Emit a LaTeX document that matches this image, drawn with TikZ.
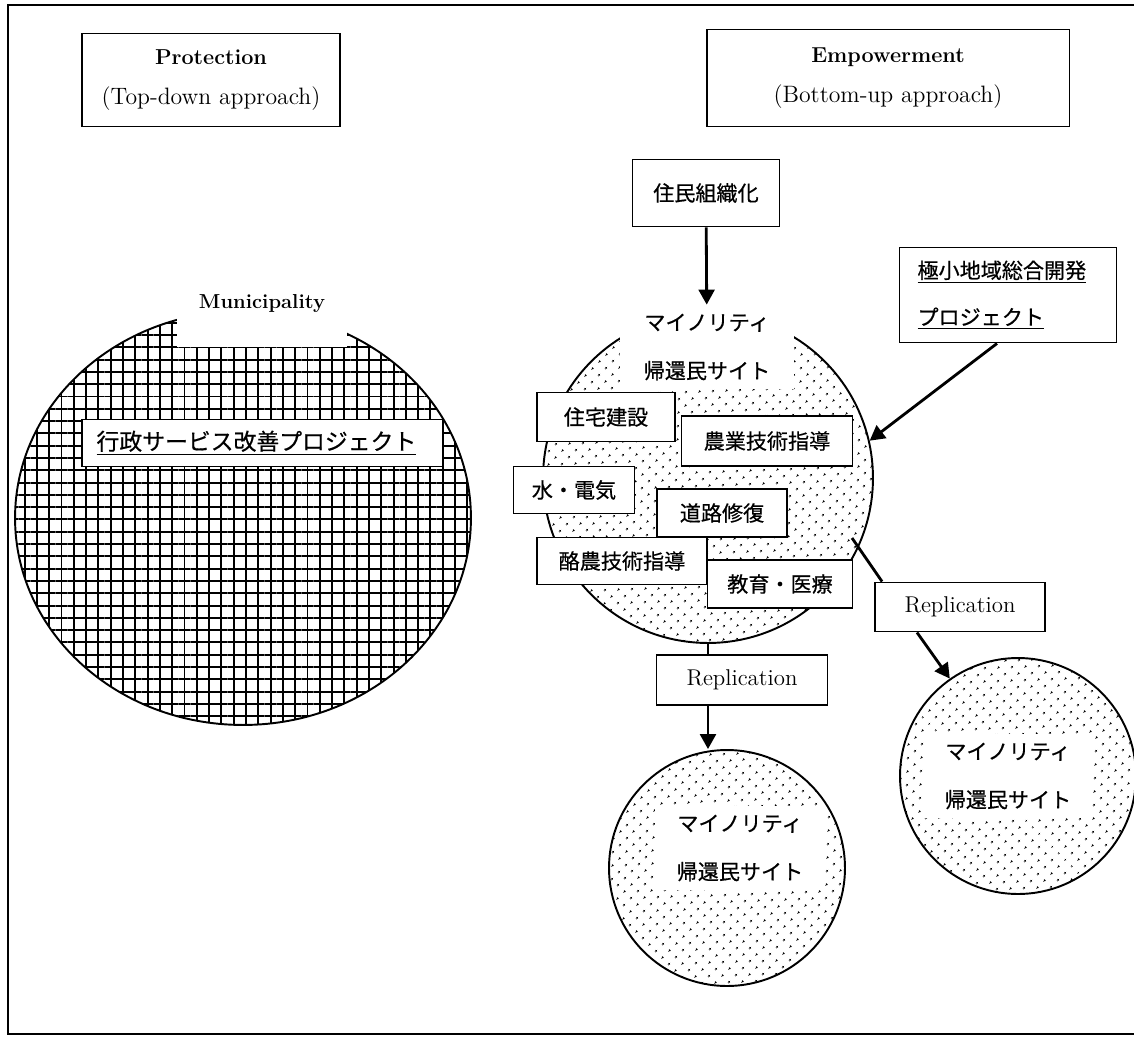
\documentclass[tikz,border=0pt]{standalone}
\usepackage{fontspec}
\newfontfamily\jp{Noto Sans CJK JP}[FakeBold=0.5]
\usetikzlibrary{arrows.meta,positioning,calc,patterns.meta,shapes.geometric}
\tikzset{
  box/.style={draw=black, line width=1.1pt, fill=white, align=center, inner sep=0pt},
  jbox/.style={box, font=\jp\fontsize{12}{14}\selectfont},
  headbox/.style={box, font=\fontsize{13.5}{22.7}\selectfont},
  repbox/.style={box, font=\fontsize{13}{15}\selectfont, minimum width=3.42cm, minimum height=1cm},
  arrow/.style={-{Triangle[length=8.5pt,width=9pt]}, line width=1.6pt},
  link/.style={line width=1.6pt},
  site/.style={circle, draw=black, line width=1.1pt, inner sep=0pt, pattern={Dots[distance=5.4pt, angle=45, radius=0.7pt]}},
  sitelbl/.style={fill=white, inner xsep=0pt, inner ysep=5pt, align=center, font=\jp\fontsize{12}{27.5}\selectfont}
}
\begin{document}
\begin{tikzpicture}[x=0.02cm, y=-0.02cm]
\useasboundingbox (0,0) rectangle (1134,1036);
% ---- frame ----
\draw[line width=1.1pt] (1134,5) -- (8,5) -- (8,1034) -- (1134,1034);
% ---- headings ----
\node[headbox, minimum width=5.16cm, minimum height=1.86cm] (prot) at (211,80) {{\bfseries\fontsize{12.3}{22.7}\selectfont Protection}\\(Top-down approach)};
\node[headbox, minimum width=7.26cm, minimum height=1.94cm] (empw) at (888,78) {{\bfseries\fontsize{12.3}{22.7}\selectfont Empowerment}\\(Bottom-up approach)};
% ---- left: municipality ----
\node[ellipse, draw=black, line width=1.1pt, inner sep=0pt, minimum width=9.12cm, minimum height=8.28cm,
  pattern={Hatch[distance=7pt, angle=0, line width=1.1pt]}] (muni) at (243,518) {};
\fill[white] (177,280) rectangle (347,347);
\node[font=\bfseries\fontsize{11.5}{13}\selectfont] (munilbl) at (262,303) {Municipality};
\node[jbox, font=\jp\fontsize{13}{15}\selectfont, text width=6.62cm, inner xsep=0.3cm, minimum height=0.94cm, align=left] (admin) at (262,443) {\underline{行政サービス改善プロジェクト}};
% ---- right: minority returnee site ----
\node[site, minimum size=6.6cm] (site) at (708,478) {};
\node[sitelbl, minimum width=3.5cm] (sitetxt) at (707,347) {マイノリティ\\帰還民サイト};
\node[jbox, minimum width=2.76cm, minimum height=0.98cm] (house) at (606,417) {住宅建設};
\node[jbox, minimum width=3.42cm, minimum height=1cm] (agri) at (767,441) {農業技術指導};
\node[jbox, minimum width=2.42cm, minimum height=0.94cm] (water) at (574,490) {水・電気};
\node[jbox, minimum width=2.6cm, minimum height=0.96cm] (road) at (722,513) {道路修復};
\node[jbox, minimum width=3.4cm, minimum height=0.94cm] (dairy) at (622,561) {酪農技術指導};
\node[jbox, minimum width=2.9cm, minimum height=0.96cm] (edu) at (780,584) {教育・医療};
% inputs
\node[jbox, minimum width=2.94cm, minimum height=1.34cm] (org) at (706,193) {住民組織化};
\draw[arrow] (org) -- (sitetxt);
\node[jbox, font=\jp\fontsize{12}{26.6}\selectfont, text width=3.62cm, inner xsep=0.36cm, minimum height=1.9cm, align=left] (proj) at (1008,295) {\underline{極小地域総合開発}\\\underline{プロジェクト}};
\draw[arrow] ($(proj.south)+(-11,0)$) -- (site.13);
% ---- replication ----
\node[site, minimum size=4.72cm] (siteR) at (1018,776) {};
\node[sitelbl, minimum width=3.32cm] (siteRtxt) at (1008,776) {マイノリティ\\帰還民サイト};
\node[site, minimum size=4.72cm] (siteB) at (727,868) {};
\node[sitelbl, minimum width=3.4cm] (siteBtxt) at (740,848) {マイノリティ\\帰還民サイト};
\node[repbox] (repB) at (742,680) {Replication};
\node[repbox, minimum width=3.4cm, minimum height=0.98cm] (repR) at (960,607) {Replication};
\coordinate (siteout) at (852,538);
\draw[link] (siteout) -- ($(repR.north west)+(8,0)$);
\draw[arrow] ($(repR.south)+(-43,0)$) -- (siteR.125);
\draw[link] (site.south) -- (site.south |- repB.north);
\draw[arrow] (site.south |- repB.south) -- (site.south |- siteB.north);
\end{tikzpicture}
\end{document}
